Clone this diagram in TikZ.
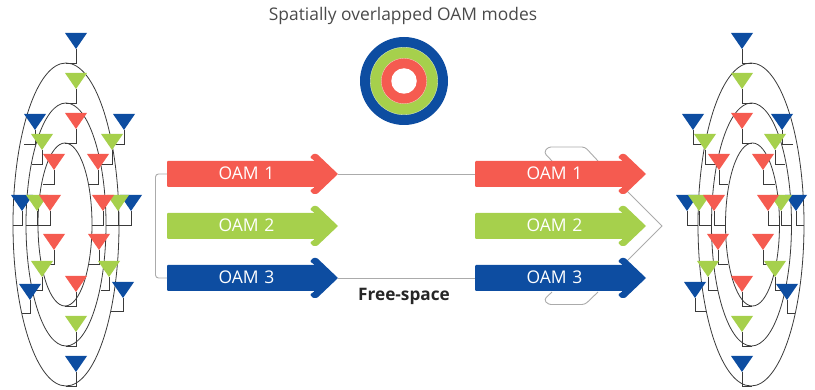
\documentclass[tikz,border=0pt]{standalone}
\usepackage{fontspec}
\setmainfont{Open Sans}
\definecolor{oamred}{HTML}{F55B50}
\definecolor{oamgreen}{HTML}{A6D04C}
\definecolor{oamblue}{HTML}{0D4DA1}
\definecolor{wire}{HTML}{3A3A3A}
\definecolor{guide}{HTML}{ABABAB}
\definecolor{titletext}{HTML}{4A4A4A}
\tikzset{
  ring/.style={wire,line width=0.8pt},
  feed/.style={wire,line width=0.9pt,line join=miter},
  guideline/.style={guide,line width=0.9pt,rounded corners=3pt},
  oamlabel/.style={text=white,font=\fontsize{17.5}{20}\selectfont,inner sep=0pt},
}
% list: x / y / colour / feed end y / feed end x
\newcommand{\antennas}[1]{%
  \foreach \ax/\ay/\ac/\fy/\fx in {#1}{
    \coordinate (tip) at (\ax,\ay+16);
    \coordinate (end) at (\fx,\fy);
    \draw[feed] (tip) |- (end);
  }
  \foreach \ax/\ay/\ac/\fy/\fx in {#1}{
    \fill[\ac] (\ax-11,\ay) -- (\ax+11,\ay) -- (\ax,\ay+16) -- cycle;
  }
}
% name, x of tail, y of centre, colour, label
\newcommand{\oamarrow}[5]{%
  \coordinate (#1tail) at (#2,#3);
  \coordinate (#1tip) at (#2+171,#3);
  \fill[#4,rounded corners=1pt] (#2,#3-13) -- (#2+148,#3-13) -- (#2+143,#3-16.5) -- (#2+146,#3-20) -- (#2+150,#3-20) [sharp corners] -- (#2+171,#3)
     [rounded corners=1pt] -- (#2+150,#3+20) -- (#2+146,#3+20) -- (#2+143,#3+16.5) -- (#2+148,#3+13) -- (#2,#3+13) -- cycle;
  \node[oamlabel] (#1label) at (#2+79.5,#3-1) {OAM\,\,#5};
}
\begin{document}
\begin{tikzpicture}[x=1pt,y=-1pt]
\useasboundingbox (0,0) rectangle (815,390);
% title and rings
\node[text=titletext,font=\fontsize{17.4}{20}\selectfont,inner sep=0pt] (title) at (403,16) {Spatially overlapped OAM modes};
\node[circle,fill=oamblue,minimum size=88pt,inner sep=0pt] (ringa) at (404,81) {};
\node[circle,fill=oamgreen,draw=white!70!oamgreen,line width=0.3pt,minimum size=67.5pt,inner sep=0pt] (ringb) at (404,81) {};
\node[circle,fill=oamred,draw=white!70!oamred,line width=0.3pt,minimum size=45.5pt,inner sep=0pt] (ringc) at (404,81) {};
\node[circle,fill=white,minimum size=25.5pt,inner sep=0pt] (ringd) at (404,81) {};
% guides
\coordinate (ga1) at (155.5,174);
\coordinate (ga3) at (155.5,278);
\coordinate (up1) at (552,161);
\coordinate (up2) at (544,152.5);
\coordinate (up3) at (548,147);
\coordinate (up4) at (585,147);
\coordinate (up5) at (598,161);
\coordinate (dn1) at (552,292);
\coordinate (dn2) at (544,299.5);
\coordinate (dn3) at (548,304.5);
\coordinate (dn4) at (585,304.5);
\coordinate (dn5) at (598,292);
\coordinate (ch1) at (627,191);
\coordinate (ch2) at (662,226);
\coordinate (ch3) at (627,261);
\draw[guideline] (up1) -- (up2) -- (up3) -- (up4) -- (up5);
\draw[guideline] (dn1) -- (dn2) -- (dn3) -- (dn4) -- (dn5);
\draw[guide,line width=0.9pt] (ch1) -- (ch2) -- (ch3);
% arrows
\oamarrow{la}{167}{174}{oamred}{1}
\oamarrow{lb}{167}{226}{oamgreen}{2}
\oamarrow{lc}{167}{278}{oamblue}{3}
\oamarrow{ra}{475}{174}{oamred}{1}
\oamarrow{rb}{475}{226}{oamgreen}{2}
\oamarrow{rc}{475}{278}{oamblue}{3}
\draw[guideline] (latail) -- (ga1) -- (ga3) -- (lctail);
\draw[guide,line width=0.9pt] (latip) -- (ratail);
\draw[guide,line width=0.9pt] (lctip) -- (rctail);
\node[font=\fontsize{17.2}{20}\selectfont\bfseries,text=black!85,inner sep=0pt] (free) at (404,296) {Free-space};
% left array
\draw[ring] (66,224.5) ellipse [x radius=53,y radius=161.5];
\draw[ring] (66,224.5) ellipse [x radius=40,y radius=121.5];
\draw[ring] (65,224.5) ellipse [x radius=27,y radius=81.5];
\antennas{76/33/oamblue/63/66, 35/114/oamblue/144/24, 124/114/oamblue/144/112,
  22/195/oamblue/225/13, 131/195/oamblue/225/119, 30/284/oamblue/313/22, 123/282/oamblue/311/111, 76/356/oamblue/386/66,
  76/73/oamgreen/103/66, 42/134/oamgreen/164/32, 112/134/oamgreen/164/101,
  37/195/oamgreen/225/26, 118/195/oamgreen/225/106, 42/261/oamgreen/290/32, 109/261/oamgreen/290/101, 76/316/oamgreen/346/66,
  76/113/oamred/143/65, 54/154/oamred/184/43, 98/154/oamred/184/89,
  50/195/oamred/225/38, 103/195/oamred/225/92, 54/234/oamred/264/45, 99/234/oamred/264/89, 76/276/oamred/306/65}
% right array
\draw[ring] (751,224.5) ellipse [x radius=53,y radius=161.5];
\draw[ring] (751.5,224.5) ellipse [x radius=40,y radius=121.5];
\draw[ring] (752.5,224.5) ellipse [x radius=27,y radius=81.5];
\antennas{742/33/oamblue/63/752, 693/114/oamblue/144/706, 782/114/oamblue/144/793,
  687/195/oamblue/225/698, 796/195/oamblue/225/804, 695/282/oamblue/311/706, 787/284/oamblue/313/795, 742/356/oamblue/386/752,
  742/73/oamgreen/103/752, 705/134/oamgreen/164/718, 775/134/oamgreen/164/785,
  699/195/oamgreen/225/711, 781/195/oamgreen/225/791, 708/261/oamgreen/290/718, 775/261/oamgreen/290/784, 742/316/oamgreen/346/752,
  742/113/oamred/143/752, 719/154/oamred/184/728, 763/154/oamred/184/775,
  714/195/oamred/225/726, 768/195/oamred/225/779, 718/234/oamred/264/728, 763/234/oamred/264/777, 742/276/oamred/306/752}
\end{tikzpicture}
\end{document}
